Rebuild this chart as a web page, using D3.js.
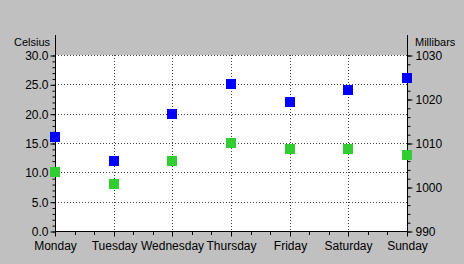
<!DOCTYPE html>
<html>
<head>
<meta charset="utf-8">
<script src="https://cdn.jsdelivr.net/npm/d3@7"></script>
<style>
  body { margin: 0; background: #c0c0c0; }
  svg { display: block; }
  text { font-family: "Liberation Sans", Arial, sans-serif; font-size: 12px; fill: #000; }
</style>
</head>
<body>
<script>
// chart data
var days = ["Monday", "Tuesday", "Wednesday", "Thursday", "Friday", "Saturday", "Sunday"];
var blueValues = [16, 12, 20, 25, 22, 24, 26];
var greenValues = [10, 8, 12, 15, 14, 14, 13];
var celsiusTicks = [0, 5, 10, 15, 20, 25, 30];
var millibarTicks = [990, 1000, 1010, 1020, 1030];

var width = 464,
    height = 264;

var svg = d3.select("body")
    .append("svg")
    .attr("width", width)
    .attr("height", height);

svg.append("rect")
    .attr("width", width)
    .attr("height", height)
    .attr("fill", "#c0c0c0");

//plot area bounds (window.top is reserved, so prefixed names)
var plotLeft = 55, plotRight = 407, plotTop = 55, plotBottom = 231;

var x = d3.scalePoint()
    .domain(days)
    .range([plotLeft, plotRight]);

var y = d3.scaleLinear()
    .domain([0, 30])
    .range([plotBottom, plotTop]);

var y2 = d3.scaleLinear()
    .domain([990, 1030])
    .range([plotBottom, plotTop]);

//white plot background
svg.append("rect")
    .attr("x", plotLeft)
    .attr("y", plotTop)
    .attr("width", plotRight - plotLeft)
    .attr("height", plotBottom - plotTop)
    .attr("fill", "#fff");

//dotted grid
svg.append("g")
    .selectAll("line")
    .data(celsiusTicks.slice(1))
    .enter()
    .append("line")
    .attr("x1", plotLeft)
    .attr("x2", plotRight)
    .attr("y1", function(d){ return Math.round(y(d)) + 0.5; })
    .attr("y2", function(d){ return Math.round(y(d)) + 0.5; })
    .attr("stroke", "#444")
    .attr("stroke-dasharray", "1,2");

svg.append("g")
    .selectAll("line")
    .data(days.slice(1, -1))
    .enter()
    .append("line")
    .attr("x1", function(d){ return Math.round(x(d)) + 0.5; })
    .attr("x2", function(d){ return Math.round(x(d)) + 0.5; })
    .attr("y1", plotTop)
    .attr("y2", plotBottom)
    .attr("stroke", "#444")
    .attr("stroke-dasharray", "1,2");

//left axis
var yAxis = svg.append("g")
    .attr("transform", "translate(" + (plotLeft + 0.5) + ",0.5)")
    .call(d3.axisLeft(y).tickValues(celsiusTicks).tickSize(5).tickPadding(2)
        .tickFormat(d3.format(".1f")));
yAxis.select(".domain").remove();
svg.append("g")
    .attr("transform", "translate(" + (plotLeft + 0.5) + ",0.5)")
    .call(d3.axisLeft(y).tickValues(d3.range(0, 31, 1)).tickSize(3).tickFormat(""))
    .select(".domain").remove();
svg.append("line")
    .attr("x1", plotLeft + 0.5).attr("x2", plotLeft + 0.5)
    .attr("y1", 35).attr("y2", plotBottom + 1)
    .attr("stroke", "#000");

//right axis
var y2Axis = svg.append("g")
    .attr("transform", "translate(" + (plotRight + 0.5) + ",0.5)")
    .call(d3.axisRight(y2).tickValues(millibarTicks).tickSize(5).tickPadding(3)
        .tickFormat(d3.format("d")));
y2Axis.select(".domain").remove();
svg.append("g")
    .attr("transform", "translate(" + (plotRight + 0.5) + ",0.5)")
    .call(d3.axisRight(y2).tickValues(d3.range(990, 1031, 2)).tickSize(3).tickFormat(""))
    .select(".domain").remove();
svg.append("line")
    .attr("x1", plotRight + 0.5).attr("x2", plotRight + 0.5)
    .attr("y1", 35).attr("y2", plotBottom + 1)
    .attr("stroke", "#000");

//bottom axis with minor ticks at thirds
var xAxis = svg.append("g")
    .attr("transform", "translate(0," + (plotBottom + 0.5) + ")")
    .call(d3.axisBottom(x).tickSize(5).tickPadding(5));
xAxis.select(".domain").attr("d", "M" + plotLeft + ",0H" + (plotRight + 1));
xAxis.selectAll(".tick").attr("transform", function(d){
    return "translate(" + (Math.round(x(d)) + 0.5) + ",0)";
});
var minorX = [];
for (var i = 0; i < days.length - 1; i++) {
    var a = x(days[i]), b = x(days[i + 1]);
    minorX.push(a + (b - a) / 3, a + 2 * (b - a) / 3);
}
svg.append("g")
    .selectAll("line")
    .data(minorX)
    .enter()
    .append("line")
    .attr("x1", function(d){ return Math.round(d) + 0.5; })
    .attr("x2", function(d){ return Math.round(d) + 0.5; })
    .attr("y1", plotBottom)
    .attr("y2", plotBottom + 4)
    .attr("stroke", "#000");

svg.selectAll(".tick text").style("font-size", "12px").style("font-family", "Liberation Sans, Arial, sans-serif");
svg.selectAll(".tick line").attr("stroke", "#000");

//axis titles
svg.append("text")
    .attr("x", 14)
    .attr("y", 46)
    .style("font-size", "11px")
    .text("Celsius");
svg.append("text")
    .attr("x", 415)
    .attr("y", 46)
    .style("font-size", "11px")
    .text("Millibars");

//markers
var size = 10;
svg.append("g")
    .selectAll("rect")
    .data(greenValues)
    .enter()
    .append("rect")
    .attr("x", function(d, i){ return Math.round(x(days[i]) - size / 2); })
    .attr("y", function(d){ return Math.round(y(d) - size / 2); })
    .attr("width", size)
    .attr("height", size)
    .attr("fill", "#32cd32");

svg.append("g")
    .selectAll("rect")
    .data(blueValues)
    .enter()
    .append("rect")
    .attr("x", function(d, i){ return Math.round(x(days[i]) - size / 2); })
    .attr("y", function(d){ return Math.round(y(d) - size / 2); })
    .attr("width", size)
    .attr("height", size)
    .attr("fill", "#0000ff");
</script>
</body>
</html>
